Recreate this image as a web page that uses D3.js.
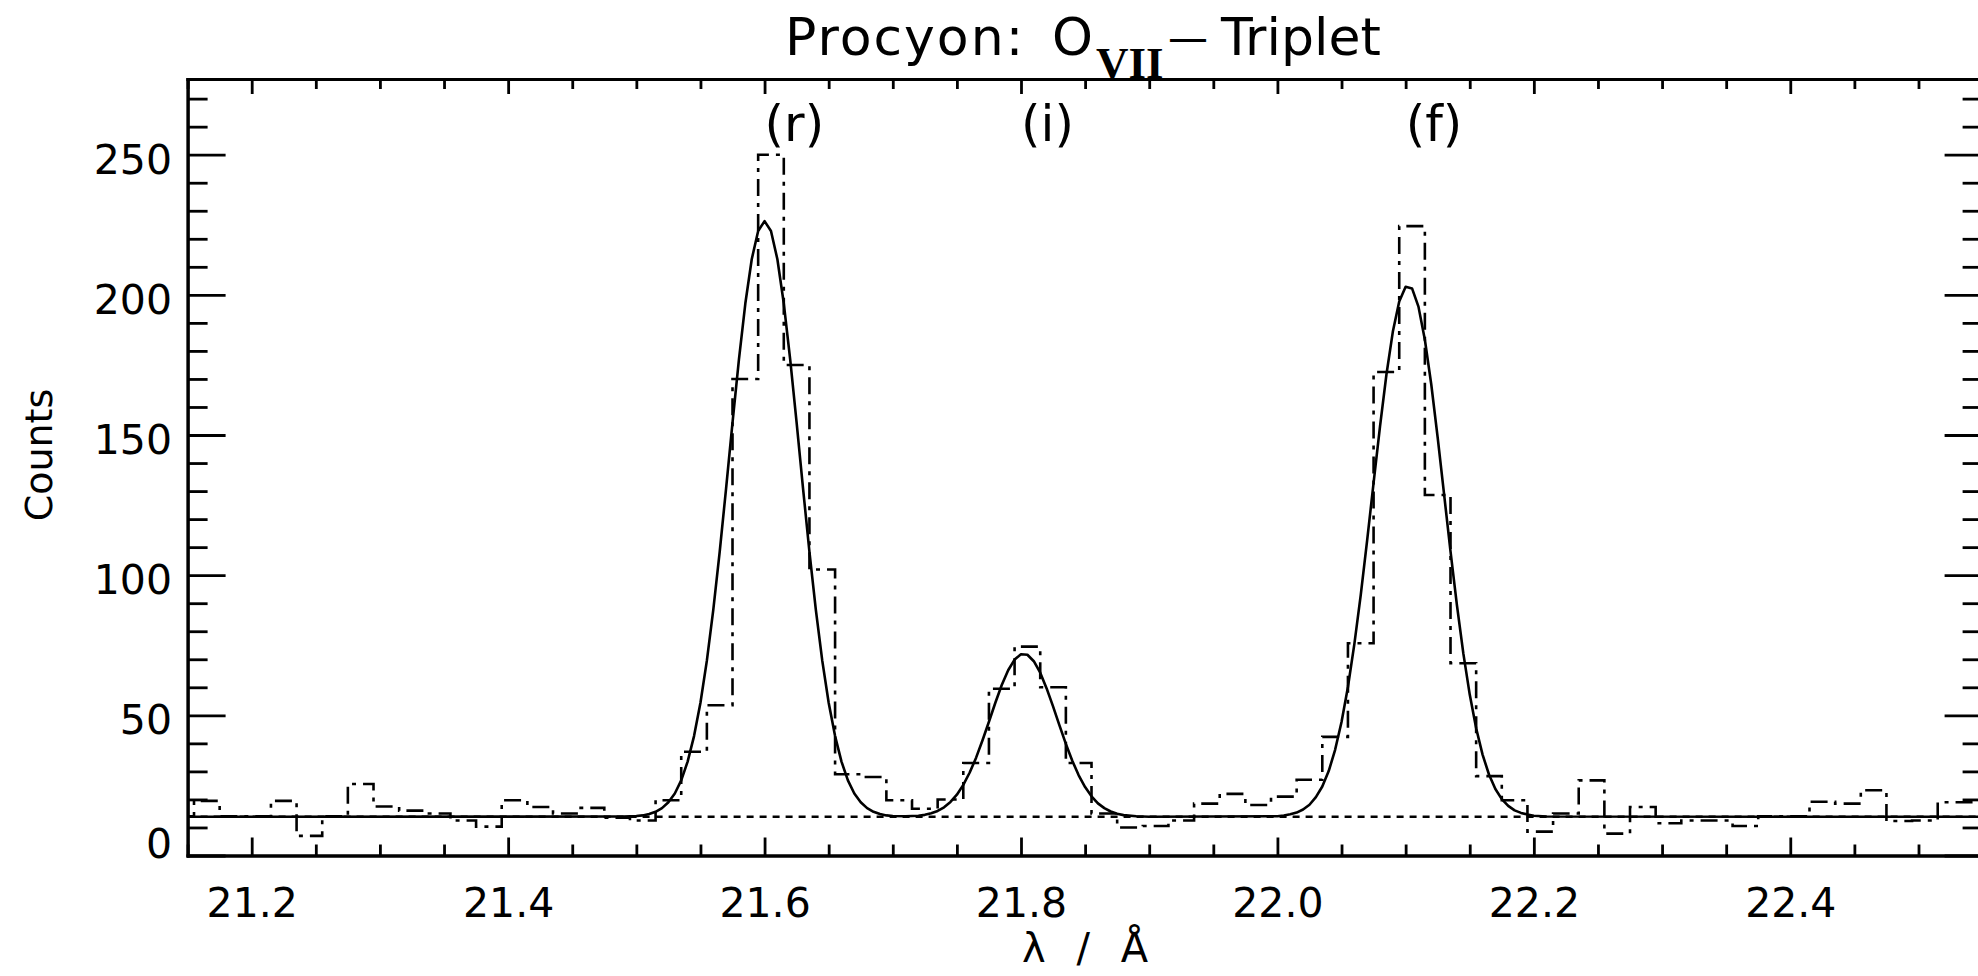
<!DOCTYPE html>
<html>
<head>
<meta charset="utf-8">
<script src="https://cdn.jsdelivr.net/npm/d3@7"></script>
<style>
  html, body { margin: 0; padding: 0; background: #ffffff; }
  svg { display: block; }
</style>
</head>
<body>
<svg id="chart" width="1978" height="976"></svg>
<script>
// ---------------- data ----------------
const xDomain = [21.15, 22.55];
const yDomain = [0, 277];

const xMajorTicks = [21.2, 21.4, 21.6, 21.8, 22.0, 22.2, 22.4];
const xTickLabels = ["21.2", "21.4", "21.6", "21.8", "22.0", "22.2", "22.4"];
const xMinorTicks = [21.15, 21.25, 21.3, 21.35, 21.45, 21.5, 21.55, 21.65, 21.7, 21.75,
                     21.85, 21.9, 21.95, 22.05, 22.1, 22.15, 22.25, 22.3, 22.35, 22.45, 22.5];
const yMajorTicks = [0, 50, 100, 150, 200, 250];
const yTickLabels = ["0", "50", "100", "150", "200", "250"];
const yMinorTicks = [10, 20, 30, 40, 60, 70, 80, 90, 110, 120, 130, 140, 160, 170, 180, 190,
                     210, 220, 230, 240, 260, 270];

const titleMain = "Procyon: ";
const titleIon = "O";
const titleSub = "VII";
const titleDash = "\u2014";
const titleEnd = "Triplet";
const xTitle = "\u03bb / \u00c5";
const yTitle = "Counts";

const peakLabels = ["(r)", "(i)", "(f)"];
const peakLabelX = [21.6, 21.8, 22.1];
const peakLabelY = 255;

// observed spectrum (histogram, bin centres in Angstrom)
const binCenters = [21.145, 21.165, 21.185, 21.205, 21.225, 21.245, 21.265, 21.285, 21.305, 21.325,
                    21.345, 21.365, 21.385, 21.405, 21.425, 21.445, 21.465, 21.485, 21.505, 21.525,
                    21.545, 21.565, 21.585, 21.605, 21.625, 21.645, 21.665, 21.685, 21.705, 21.725,
                    21.745, 21.765, 21.785, 21.805, 21.825, 21.845, 21.865, 21.885, 21.905, 21.925,
                    21.945, 21.965, 21.985, 22.005, 22.025, 22.045, 22.065, 22.085, 22.105, 22.125,
                    22.145, 22.165, 22.185, 22.205, 22.225, 22.245, 22.265, 22.285, 22.305, 22.325,
                    22.345, 22.365, 22.385, 22.405, 22.425, 22.445, 22.465, 22.485, 22.505, 22.525,
                    22.545];
const binCounts = [14, 19.5, 14, 14, 19.5, 7, 14, 25.5, 17.5, 16,
                   15, 12.5, 10.3, 19.7, 17.3, 15, 17, 13.5, 12.5, 19.7,
                   37, 53.6, 170, 250, 175, 102, 29, 28, 19.7, 16.7,
                   20, 33, 59.5, 74.5, 60, 33, 15, 10, 10.5, 12.5,
                   18.5, 22, 18, 21, 27, 42.3, 75.7, 172.5, 224.5, 128.6,
                   68.6, 28.3, 19.7, 8.5, 15, 26.8, 7.8, 17.3, 11.5, 12.5,
                   12.5, 10.5, 14, 14, 19.2, 18.5, 23.3, 12.3, 12.5, 19,
                   19];

// fitted model (solid curve), [wavelength, counts]
const modelPoints = [
  [21.15, 13.8], [21.49, 13.9],
  [21.500, 14.1], [21.505, 14.3], [21.510, 14.8], [21.515, 15.6], [21.520, 16.9],
  [21.525, 19.0], [21.530, 22.1], [21.535, 26.8], [21.540, 33.5], [21.545, 42.6],
  [21.550, 54.5], [21.555, 69.5], [21.560, 87.6], [21.565, 108.3], [21.570, 131.0],
  [21.575, 154.4], [21.580, 176.9], [21.585, 196.9], [21.590, 212.7], [21.595, 222.8],
  [21.600, 226.3], [21.605, 222.8], [21.610, 212.7], [21.615, 196.9], [21.620, 176.9],
  [21.625, 154.4], [21.630, 131.0], [21.635, 108.3], [21.640, 87.6], [21.645, 69.5],
  [21.650, 54.5], [21.655, 42.6], [21.660, 33.5], [21.665, 26.8], [21.670, 22.1],
  [21.675, 19.0], [21.680, 16.9], [21.685, 15.6], [21.690, 14.8], [21.695, 14.3],
  [21.700, 14.1], [21.710, 14.0],
  [21.720, 14.2], [21.725, 14.5], [21.730, 15.1], [21.735, 15.9], [21.740, 17.2],
  [21.745, 19.1], [21.750, 21.7], [21.755, 25.2], [21.760, 29.6], [21.765, 34.9],
  [21.770, 41.1], [21.775, 47.7], [21.780, 54.5], [21.785, 60.8], [21.790, 66.1],
  [21.795, 69.9], [21.800, 71.8], [21.805, 71.6], [21.810, 69.3], [21.815, 65.2],
  [21.820, 59.6], [21.825, 53.2], [21.830, 46.4], [21.835, 39.8], [21.840, 33.8],
  [21.845, 28.6], [21.850, 24.4], [21.855, 21.1], [21.860, 18.6], [21.865, 16.9],
  [21.870, 15.7], [21.875, 14.9], [21.880, 14.4], [21.890, 14.0],
  [21.900, 13.8], [22.000, 14.0],
  [22.005, 14.3], [22.010, 14.7], [22.015, 15.3], [22.020, 16.4], [22.025, 18.1],
  [22.030, 20.8], [22.035, 24.6], [22.040, 30.1], [22.045, 37.7], [22.050, 47.6],
  [22.055, 60.1], [22.060, 75.4], [22.065, 93.0], [22.070, 112.5], [22.075, 132.9],
  [22.080, 153.0], [22.085, 171.5], [22.090, 186.8], [22.095, 197.6], [22.100, 202.9],
  [22.105, 202.3], [22.110, 195.8], [22.115, 184.0], [22.120, 168.0], [22.125, 149.1],
  [22.130, 128.8], [22.135, 108.5], [22.140, 89.3], [22.145, 72.1], [22.150, 57.4],
  [22.155, 45.4], [22.160, 36.0], [22.165, 28.9], [22.170, 23.7], [22.175, 20.1],
  [22.180, 17.7], [22.185, 16.1], [22.190, 15.2], [22.195, 14.6], [22.200, 14.2],
  [22.210, 13.9], [22.55, 13.8]
];

const continuumLevel = 13.8;

// ---------------- layout ----------------
const plot = { left: 187.6, right: 1982.6, top: 79, bottom: 855.5 };
const svg = d3.select("#chart");
svg.append("rect").attr("x", 0).attr("y", 0).attr("width", 1978).attr("height", 976).attr("fill", "#ffffff");

const x = d3.scaleLinear().domain(xDomain).range([plot.left, plot.right]);
const y = d3.scaleLinear().domain(yDomain).range([plot.bottom, plot.top]);

const FONT = "'DejaVu Sans', 'Liberation Sans', sans-serif";

svg.append("defs").append("clipPath").attr("id", "plotclip")
  .append("rect")
  .attr("x", plot.left).attr("y", plot.top)
  .attr("width", plot.right - plot.left).attr("height", plot.bottom - plot.top);

// ---------------- data marks ----------------
const marks = svg.append("g").attr("clip-path", "url(#plotclip)");

// dotted continuum
marks.append("path")
  .datum([[xDomain[0], continuumLevel], [xDomain[1], continuumLevel]])
  .attr("d", d3.line().x(d => x(d[0])).y(d => y(d[1])))
  .attr("fill", "none").attr("stroke", "#000").attr("stroke-width", 2.6)
  .attr("stroke-dasharray", "7,6");

// histogram (dash-dot)
const histData = binCenters.map((c, i) => [c, binCounts[i]]);
marks.append("path")
  .datum(histData)
  .attr("d", d3.line().x(d => x(d[0])).y(d => y(d[1])).curve(d3.curveStep))
  .attr("fill", "none").attr("stroke", "#000").attr("stroke-width", 2.6)
  .attr("stroke-dasharray", "17,7,4,7");

// fitted model (solid)
marks.append("path")
  .datum(modelPoints)
  .attr("d", d3.line().x(d => x(d[0])).y(d => y(d[1])))
  .attr("fill", "none").attr("stroke", "#000").attr("stroke-width", 2.6)
  .attr("stroke-linejoin", "round");

// ---------------- axes ----------------
function styleAxis(g) {
  g.attr("font-family", FONT).attr("font-size", 41);
  g.selectAll("path.domain").attr("stroke", "#000").attr("stroke-width", 3).attr("stroke-linecap", "square");
  g.selectAll(".tick line").attr("stroke", "#000").attr("stroke-width", 2.8);
  g.selectAll(".tick text").attr("fill", "#000");
}

// bottom
svg.append("g").attr("transform", `translate(0,${plot.bottom})`)
  .call(d3.axisBottom(x).tickValues(xMinorTicks).tickSize(-11).tickSizeOuter(0).tickFormat(""))
  .call(styleAxis);
svg.append("g").attr("transform", `translate(0,${plot.bottom})`)
  .call(d3.axisBottom(x).tickValues(xMajorTicks).tickSize(-18).tickSizeOuter(0).tickPadding(32.5)
        .tickFormat((d, i) => xTickLabels[i]))
  .call(styleAxis);

// top
svg.append("g").attr("transform", `translate(0,${plot.top})`)
  .call(d3.axisTop(x).tickValues(xMinorTicks).tickSize(-10).tickSizeOuter(0).tickFormat(""))
  .call(styleAxis);
svg.append("g").attr("transform", `translate(0,${plot.top})`)
  .call(d3.axisTop(x).tickValues(xMajorTicks).tickSize(-15).tickSizeOuter(0).tickFormat(""))
  .call(styleAxis);

// left
svg.append("g").attr("transform", `translate(${plot.left},0)`)
  .call(d3.axisLeft(y).tickValues(yMinorTicks).tickSize(-20).tickSizeOuter(0).tickFormat(""))
  .call(styleAxis);
const leftAxis = svg.append("g").attr("transform", `translate(${plot.left},0)`)
  .call(d3.axisLeft(y).tickValues(yMajorTicks).tickSize(-38).tickSizeOuter(0).tickPadding(15.6)
        .tickFormat((d, i) => yTickLabels[i]))
  .call(styleAxis);
leftAxis.selectAll(".tick text")
  .attr("dy", 0)
  .attr("y", d => Math.min(18.5, plot.bottom + 1.5 - y(d)));

// right
svg.append("g").attr("transform", `translate(${plot.right},0)`)
  .call(d3.axisRight(y).tickValues(yMinorTicks).tickSize(-20).tickSizeOuter(0).tickFormat(""))
  .call(styleAxis);
svg.append("g").attr("transform", `translate(${plot.right},0)`)
  .call(d3.axisRight(y).tickValues(yMajorTicks).tickSize(-38).tickSizeOuter(0).tickFormat(""))
  .call(styleAxis);

// ---------------- texts ----------------
// title
const t = svg.append("text").attr("font-family", FONT).attr("font-size", 52).attr("fill", "#000");
t.append("tspan").attr("x", 785).attr("y", 55).attr("letter-spacing", 2).text(titleMain);
t.append("tspan").attr("x", 1052).attr("y", 55).text(titleIon);
t.append("tspan").attr("x", 1096).attr("y", 78)
  .attr("font-family", "'Liberation Serif', 'DejaVu Serif', serif").attr("font-weight", "bold")
  .attr("font-size", 45).text(titleSub);
t.append("tspan").attr("x", 1168).attr("y", 52).attr("font-size", 40).text(titleDash);
t.append("tspan").attr("x", 1221).attr("y", 55).text(titleEnd);

// peak labels
svg.append("g").selectAll("text").data(peakLabels).join("text")
  .attr("x", (d, i) => x(peakLabelX[i]))
  .attr("y", y(peakLabelY))
  .attr("font-family", FONT).attr("font-size", 50).attr("fill", "#000")
  .text(d => d);

// x title
svg.append("text")
  .attr("x", (plot.left + plot.right) / 2 + 4.5).attr("y", 962)
  .attr("text-anchor", "middle")
  .attr("font-family", FONT).attr("font-size", 40).attr("letter-spacing", 9)
  .attr("xml:space", "preserve").style("white-space", "pre")
  .attr("fill", "#000")
  .text(xTitle);

// y title
svg.append("text")
  .attr("transform", `translate(52,455) rotate(-90)`)
  .attr("text-anchor", "middle")
  .attr("font-family", FONT).attr("font-size", 38).attr("fill", "#000")
  .text(yTitle);
</script>
</body>
</html>
